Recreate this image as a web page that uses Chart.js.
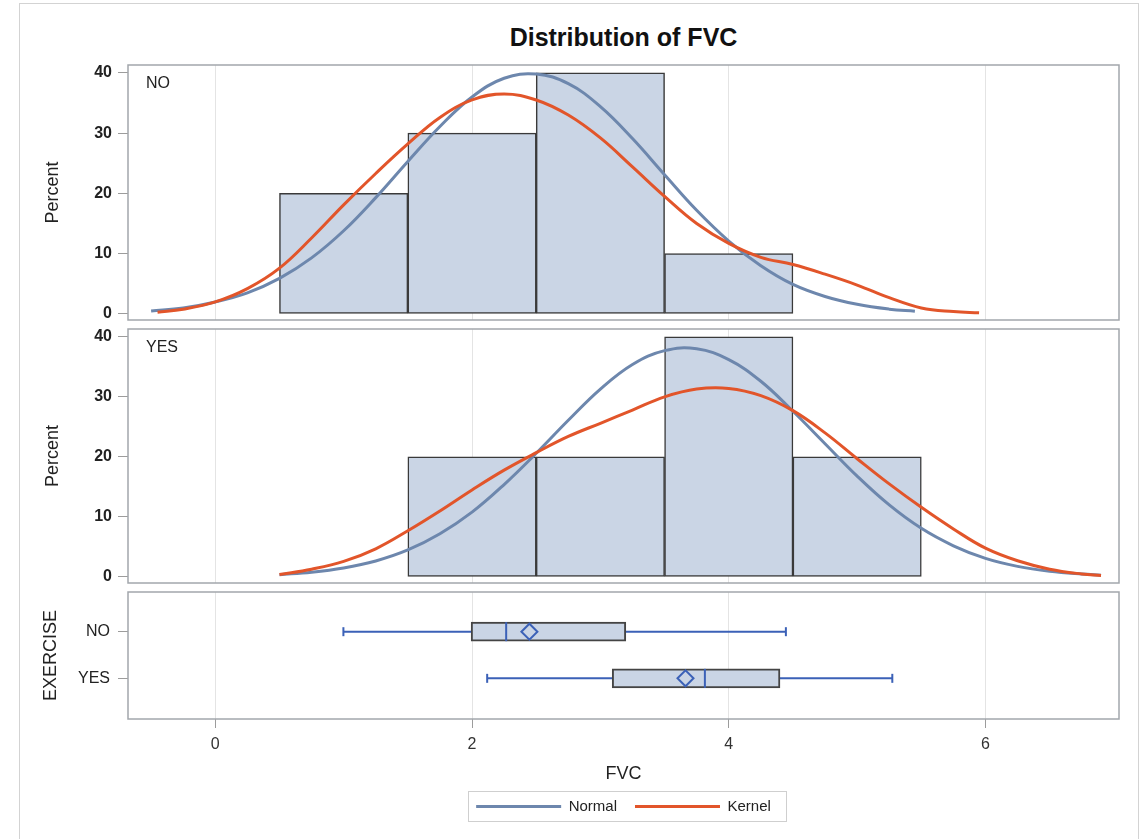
<!DOCTYPE html>
<html>
<head>
<meta charset="utf-8">
<title>Distribution of FVC</title>
<script src="https://cdn.jsdelivr.net/npm/chart.js@4.4.1/dist/chart.umd.min.js"></script>
<style>
  body { margin: 0; background: #fff; font-family: "Liberation Sans", Arial, sans-serif; }
  #wrap { position: relative; width: 1147px; height: 839px; overflow: hidden; }
  #frame { position: absolute; left: 19px; top: 3px; width: 1118px; height: 860px; border: 1px solid #d3d3d3; }
  #title { position: absolute; left: 128px; width: 991px; top: 22px; line-height: 30px; text-align: center;
           font-weight: bold; font-size: 25px; color: #111; }
  canvas { position: absolute; left: 0; }
</style>
</head>
<body>
<div id="wrap">
  <div id="frame"></div>
  <div id="title">Distribution of FVC</div>
  <canvas id="noChart" width="1147" height="325" style="top:0"></canvas>
  <canvas id="yesChart" width="1147" height="263" style="top:325px"></canvas>
  <canvas id="boxChart" width="1147" height="251" style="top:588px"></canvas>
</div>
<script>
/* data */
const noBinMid = [1, 2, 3, 4];
const noPercent = [20, 30, 40, 10];
const yesBinMid = [2, 3, 4, 5];
const yesPercent = [20, 20, 40, 20];

const noNormalX = [-0.5, -0.25, 0, 0.25, 0.5, 0.75, 1, 1.25, 1.5, 1.75, 2, 2.25, 2.5, 2.75, 3, 3.25, 3.5, 3.75, 4, 4.25, 4.5, 4.75, 5, 5.25, 5.45];
const noNormalY = [0.5, 1.0, 2.0, 3.5, 5.9, 9.3, 13.8, 19.3, 25.3, 31.1, 36.0, 39.1, 39.8, 38.2, 34.4, 29.1, 23.1, 17.2, 12.1, 8.0, 4.9, 2.9, 1.6, 0.8, 0.45];
const noKernelX = [-0.45, -0.25, 0, 0.25, 0.5, 0.75, 1, 1.25, 1.5, 1.75, 2, 2.25, 2.5, 2.75, 3, 3.25, 3.5, 3.75, 4, 4.25, 4.5, 4.75, 5, 5.25, 5.5, 5.75, 5.95];
const noKernelY = [0.3, 0.8, 2.0, 4.2, 7.6, 12.6, 18.1, 23.3, 28.2, 32.6, 35.5, 36.5, 35.5, 33.0, 29.2, 24.4, 19.5, 15.0, 11.7, 9.4, 8.2, 6.6, 4.8, 2.7, 1.0, 0.4, 0.2];

const yesCurveX = [0.5, 0.75, 1, 1.25, 1.5, 1.75, 2, 2.25, 2.5, 2.75, 3, 3.25, 3.5, 3.75, 4, 4.25, 4.5, 4.75, 5, 5.25, 5.5, 5.75, 6, 6.25, 6.5, 6.75, 6.9];
const yesNormalY = [0.39, 0.79, 1.5, 2.67, 4.5, 7.2, 10.8, 15.4, 20.6, 26.1, 31.3, 35.4, 37.7, 38.0, 36.2, 32.6, 27.6, 22.2, 16.8, 12.0, 8.1, 5.2, 3.1, 1.77, 0.95, 0.48, 0.31];
const yesKernelY = [0.4, 1.3, 2.6, 4.7, 7.7, 11.0, 14.5, 17.8, 20.7, 23.4, 25.6, 27.8, 30.0, 31.3, 31.4, 30.2, 27.7, 24.0, 19.7, 15.5, 11.6, 8.0, 4.8, 2.7, 1.3, 0.5, 0.25];

const exerciseGroups = ['NO', 'YES'];
const boxMin = [0.998, 2.118];
const boxQ1 = [1.993, 3.092];
const boxMedian = [2.266, 3.814];
const boxQ3 = [3.198, 4.399];
const boxMax = [4.445, 5.274];
const boxMean = [2.447, 3.663];

const xTickStep = 2;

/* styling */
const FONT = '"Liberation Sans", Arial, sans-serif';
const NORMAL_COLOR = '#6d87ad';
const KERNEL_COLOR = '#e2552a';
const FILL = '#cad5e5';
const BLUE = '#3b61b7';

Chart.defaults.font.family = FONT;
Chart.defaults.color = '#222';
Chart.defaults.animation = false;
Chart.defaults.events = [];

const zip = (xs, ys) => xs.map((x, i) => ({ x: x, y: ys[i] }));

/* frame around each panel plus the group label */
const panelFrame = {
    id: 'panelFrame',
    afterDraw(chart, args, opts) {
        const { ctx, chartArea: a } = chart;
        ctx.save();
        ctx.strokeStyle = '#a2a7ac';
        ctx.lineWidth = 1.5;
        ctx.strokeRect(a.left, a.top, a.right - a.left, a.bottom - a.top);
        if (opts.label) {
            ctx.fillStyle = '#222';
            ctx.font = '16px ' + FONT;
            ctx.textBaseline = 'middle';
            ctx.fillText(opts.label, a.left + 18, a.top + 19);
        }
        ctx.restore();
    }
};

/* centre the legend under the plot area and put a border round it */
const legendBox = {
    id: 'legendBox',
    afterLayout(chart) {
        const lg = chart.legend;
        if (!lg) return;
        const dx = (chart.chartArea.left + chart.chartArea.right) / 2 - (lg.left + lg.right) / 2;
        lg.left += dx;
        lg.right += dx;
        lg.legendHitBoxes.forEach(b => { b.left += dx; });
    },
    afterDraw(chart) {
        const boxes = chart.legend && chart.legend.legendHitBoxes;
        if (!boxes || !boxes.length) return;
        const left = Math.min(...boxes.map(b => b.left)) - 8;
        const right = Math.max(...boxes.map(b => b.left + b.width)) + 15;
        const top = boxes[0].top - 8;
        const ctx = chart.ctx;
        ctx.save();
        ctx.strokeStyle = '#cfcfcf';
        ctx.lineWidth = 1;
        ctx.strokeRect(Math.round(left) + 0.5, Math.round(top) + 0.5, Math.round(right - left), boxes[0].height + 15);
        ctx.restore();
    }
};

function xAxis(withTicks) {
    return {
        type: 'linear', min: -0.68, max: 7.04, offset: false,
        ticks: { stepSize: xTickStep, includeBounds: false, display: withTicks, padding: 7, font: { size: 16 }, color: '#333' },
        grid: { offset: false, color: '#e4e4e4', drawTicks: withTicks, tickLength: 9, tickColor: '#9c9c9c' },
        border: { display: false },
        title: { display: withTicks, text: 'FVC', font: { size: 18 }, color: '#222', padding: { top: 0, bottom: -4 } },
        afterFit: s => { s.height = withTicks ? 62 : 0; s.paddingLeft = 0; s.paddingRight = 0; }
    };
}

function percentAxis() {
    return {
        type: 'linear', min: -1, max: 41.3,
        ticks: { stepSize: 10, includeBounds: false, padding: 6, font: { size: 16, weight: 'bold' }, color: '#222' },
        grid: { drawOnChartArea: false, tickLength: 10, tickColor: '#9c9c9c' },
        border: { display: false },
        title: { display: true, text: 'Percent', font: { size: 18 }, color: '#222', padding: { top: 22, bottom: 0 } },
        afterFit: s => { s.width = 108; s.paddingTop = 0; s.paddingBottom = 0; }
    };
}

function histChart(id, label, mids, pct, normalPts, kernelPts, padTop, padBottom) {
    return new Chart(document.getElementById(id), {
        type: 'bar',
        data: {
            datasets: [
                { type: 'line', label: 'Kernel', data: kernelPts, borderColor: KERNEL_COLOR, borderWidth: 3,
                  pointRadius: 0, tension: 0.4, fill: false },
                { type: 'line', label: 'Normal', data: normalPts, borderColor: NORMAL_COLOR, borderWidth: 3,
                  pointRadius: 0, tension: 0.4, fill: false },
                { type: 'bar', label: 'Percent', data: zip(mids, pct), backgroundColor: FILL,
                  borderColor: '#3a3a3a', borderWidth: 1.5, borderSkipped: false,
                  barPercentage: 1, categoryPercentage: 1 }
            ]
        },
        options: {
            responsive: false,
            layout: { padding: { left: 20, right: 28, top: padTop, bottom: padBottom } },
            scales: { x: xAxis(false), y: percentAxis() },
            plugins: { legend: { display: false }, tooltip: { enabled: false }, panelFrame: { label: label } }
        },
        plugins: [panelFrame]
    });
}

histChart('noChart', 'NO', noBinMid, noPercent, zip(noNormalX, noNormalY), zip(noKernelX, noKernelY), 65, 5);
histChart('yesChart', 'YES', yesBinMid, yesPercent, zip(yesCurveX, yesNormalY), zip(yesCurveX, yesKernelY), 4, 5);

/* box plot panel */
const whiskers = exerciseGroups.map((g, i) => ({
    type: 'line',
    data: [{ x: boxMin[i], y: i }, { x: boxMax[i], y: i }],
    borderColor: BLUE, borderWidth: 2,
    pointStyle: 'line', rotation: 90, pointRadius: 4.5,
    pointBorderColor: BLUE, pointBorderWidth: 2
}));

new Chart(document.getElementById('boxChart'), {
    type: 'bar',
    data: {
        datasets: [
            { type: 'line', showLine: false, data: exerciseGroups.map((g, i) => ({ x: boxMean[i], y: i })),
              pointStyle: 'rectRot', pointRadius: 8, pointBorderColor: BLUE, pointBorderWidth: 2,
              pointBackgroundColor: 'rgba(0,0,0,0)' },
            { type: 'line', showLine: false, data: exerciseGroups.map((g, i) => ({ x: boxMedian[i], y: i })),
              pointStyle: 'line', rotation: 90, pointRadius: 9.5, pointBorderColor: BLUE, pointBorderWidth: 2 },
            { type: 'bar', indexAxis: 'y', data: exerciseGroups.map((g, i) => ({ x: [boxQ1[i], boxQ3[i]], y: i })),
              backgroundColor: FILL, borderColor: '#444', borderWidth: 2, borderSkipped: false, barThickness: 19 },
            ...whiskers,
            { type: 'line', label: 'Normal', data: [], borderColor: NORMAL_COLOR, borderWidth: 3 },
            { type: 'line', label: 'Kernel', data: [], borderColor: KERNEL_COLOR, borderWidth: 3 }
        ]
    },
    options: {
        responsive: false,
        layout: { autoPadding: false, padding: { left: 20, right: 28, top: 4, bottom: 15 } },
        scales: {
            x: xAxis(true),
            y: {
                type: 'linear', min: -0.851, max: 1.872, reverse: true, offset: false,
                afterBuildTicks: s => { s.ticks = exerciseGroups.map((g, i) => ({ value: i })); },
                ticks: { padding: 8, font: { size: 16 }, color: '#222', callback: v => exerciseGroups[v] },
                grid: { offset: false, drawOnChartArea: false, tickLength: 10, tickColor: '#9c9c9c' },
                border: { display: false },
                title: { display: true, text: 'EXERCISE', font: { size: 18 }, color: '#222', padding: { top: 20, bottom: 0 } },
                afterFit: s => { s.width = 108; s.paddingTop = 0; s.paddingBottom = 0; }
            }
        },
        plugins: {
            tooltip: { enabled: false },
            legend: {
                position: 'bottom',
                labels: {
                    usePointStyle: true, pointStyle: 'line', pointStyleWidth: 85, padding: 18,
                    font: { size: 15 }, color: '#222',
                    filter: item => item.text === 'Normal' || item.text === 'Kernel'
                }
            }
        }
    },
    plugins: [panelFrame, legendBox]
});
</script>
</body>
</html>
